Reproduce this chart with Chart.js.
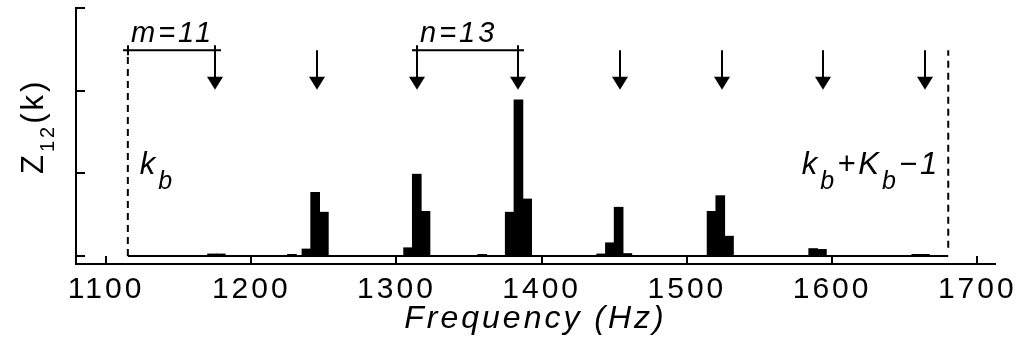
<!DOCTYPE html>
<html>
<head>
<meta charset="utf-8">
<script src="https://cdn.jsdelivr.net/npm/chart.js@4.4.1/dist/chart.umd.min.js"></script>
<style>
  html, body { margin: 0; padding: 0; background: #fff; }
</style>
</head>
<body>
<canvas id="chart-z12" width="1023" height="341"></canvas>
<script>
// Z12(k) per frequency bin
const binFreqs  = [1173, 1179, 1228, 1238, 1244, 1250, 1308, 1314, 1320, 1359, 1378, 1384, 1390, 1441, 1447, 1453, 1459, 1517, 1523, 1529, 1587, 1593, 1658, 1664];
const binValues = [0.025, 0.025, 0.02, 0.085, 0.77, 0.53, 0.10, 0.99, 0.54, 0.02, 0.53, 1.89, 0.69, 0.025, 0.16, 0.59, 0.03, 0.54, 0.73, 0.24, 0.09, 0.08, 0.02, 0.02];
// harmonic positions marked by arrows
const harmonicFreqs = [1175, 1245, 1314, 1384, 1454, 1524, 1594, 1664];
// first and last analysed bin: kb and kb+Kb-1
const bandEdges = [1115, 1680];
// brackets over the arrows
const bracketFrom = [1115, 1314];
const bracketTo = [1175, 1384];
const bracketLabels = ['m=11', 'n=13'];
const bracketLevel = 2.49;
const arrowTip = 2.01;
const xTicks = [1100, 1200, 1300, 1400, 1500, 1600, 1700];
const yTicks = [0, 1, 2, 3];

const FONT = '"Liberation Sans", Arial, Helvetica, sans-serif';
const italic = s => 'italic ' + s + 'px ' + FONT;
const plain = s => s + 'px ' + FONT;

function drawRuns(ctx, runs, x, y) {
    let cx = x;
    runs.forEach(r => {
        ctx.font = r.font;
        ctx.fillText(r.text, cx, y + (r.dy || 0));
        cx += ctx.measureText(r.text).width;
    });
    return cx - x;
}
function runsWidth(ctx, runs) {
    let w = 0;
    runs.forEach(r => { ctx.font = r.font; w += ctx.measureText(r.text).width; });
    return w;
}

const spacing = {
    id: 'spacing',
    beforeDraw(chart) {
        chart.ctx.letterSpacing = '3px';
    }
};

const inwardTicks = {
    id: 'inwardTicks',
    afterDraw(chart) {
        const { ctx, chartArea, scales: { x, y } } = chart;
        ctx.save();
        ctx.strokeStyle = '#000';
        ctx.lineWidth = 2;
        ctx.beginPath();
        xTicks.forEach(v => {
            const px = Math.round(x.getPixelForValue(v));
            ctx.moveTo(px, chartArea.bottom);
            ctx.lineTo(px, chartArea.bottom - 8);
        });
        yTicks.forEach(v => {
            const py = Math.round(y.getPixelForValue(v));
            ctx.moveTo(chartArea.left, py);
            ctx.lineTo(chartArea.left + 9, py);
        });
        ctx.stroke();
        ctx.restore();
    }
};

const annotate = {
    id: 'annotate',
    afterDraw(chart) {
        const { ctx, scales: { x, y } } = chart;
        ctx.save();
        ctx.strokeStyle = '#000';
        ctx.fillStyle = '#000';
        ctx.lineWidth = 2;
        const yTop = y.getPixelForValue(bracketLevel);
        const yTip = y.getPixelForValue(arrowTip);

        // arrows at the harmonics
        harmonicFreqs.forEach(f => {
            const px = Math.round(x.getPixelForValue(f));
            ctx.beginPath();
            ctx.moveTo(px, yTop);
            ctx.lineTo(px, yTip - 10);
            ctx.stroke();
            ctx.beginPath();
            ctx.moveTo(px - 8, yTip - 13);
            ctx.lineTo(px + 8, yTip - 13);
            ctx.lineTo(px, yTip);
            ctx.closePath();
            ctx.fill();
        });

        // brackets + labels
        ctx.textBaseline = 'alphabetic';
        ctx.textAlign = 'left';
        bracketFrom.forEach((f, i) => {
            const x0 = Math.round(x.getPixelForValue(f));
            const x1 = Math.round(x.getPixelForValue(bracketTo[i]));
            ctx.beginPath();
            ctx.moveTo(x0 - 5, yTop);
            ctx.lineTo(x1 + 6, yTop);
            ctx.moveTo(x0, yTop - 5);
            ctx.lineTo(x0, yTop + 5);
            ctx.moveTo(x1, yTop - 5);
            ctx.lineTo(x1, yTop + 5);
            ctx.stroke();
            drawRuns(ctx, [{ text: bracketLabels[i], font: italic(29) }], x0 + 3, yTop - 8);
        });

        // kb and kb+Kb-1
        const left = x.getPixelForValue(bandEdges[0]);
        const right = x.getPixelForValue(bandEdges[1]);
        drawRuns(ctx, [
            { text: 'k', font: italic(31) },
            { text: 'b', font: italic(25), dy: 15 }
        ], left + 12, 174);
        const endRuns = [
            { text: 'k', font: italic(31) },
            { text: 'b', font: italic(25), dy: 15 },
            { text: '+K', font: italic(31) },
            { text: 'b', font: italic(25), dy: 15 },
            { text: '\u22121', font: italic(31) }
        ];
        drawRuns(ctx, endRuns, right - 8 - runsWidth(ctx, endRuns), 174);

        // y-axis title Z12(k)
        ctx.translate(43, 174);
        ctx.rotate(-Math.PI / 2);
        drawRuns(ctx, [
            { text: 'Z', font: plain(31) },
            { text: '12', font: plain(20), dy: 11 },
            { text: '(k)', font: plain(31) }
        ], 0, 0);
        ctx.restore();
    }
};

const ctx = document.getElementById('chart-z12').getContext('2d');
const z12Chart = new Chart(ctx, {
    type: 'bar',
    data: {
        datasets: [
            {
                label: 'Z12(k)',
                data: binFreqs.map((f, i) => ({ x: f, y: binValues[i] })),
                backgroundColor: '#000',
                borderWidth: 0,
                barThickness: 9
            },
            {
                type: 'line',
                data: [{ x: bandEdges[0], y: 0 }, { x: bandEdges[1], y: 0 }],
                borderColor: '#000',
                borderWidth: 2,
                pointRadius: 0
            },
            {
                type: 'line',
                data: [{ x: bandEdges[0], y: 0 }, { x: bandEdges[0], y: bracketLevel }],
                borderColor: '#000',
                borderWidth: 2,
                borderDash: [7, 5],
                pointRadius: 0
            },
            {
                type: 'line',
                data: [{ x: bandEdges[1], y: 0.1 }, { x: bandEdges[1], y: bracketLevel }],
                borderColor: '#000',
                borderWidth: 2,
                borderDash: [7, 5],
                pointRadius: 0
            }
        ]
    },
    options: {
        responsive: false,
        devicePixelRatio: 1,
        animation: false,
        events: [],
        layout: { padding: { top: 8, right: 28, left: 0, bottom: 0 } },
        plugins: {
            legend: { display: false },
            tooltip: { enabled: false }
        },
        scales: {
            x: {
                type: 'linear',
                offset: false,
                min: 1079.3,
                max: 1712.2,
                afterBuildTicks: s => { s.ticks = xTicks.map(v => ({ value: v })); },
                afterFit: s => { s.height = 77; },
                grid: { display: false },
                border: { display: true, color: '#000', width: 2 },
                ticks: {
                    color: '#000',
                    font: { family: FONT, size: 30 },
                    padding: 0,
                    maxRotation: 0,
                    autoSkip: false,
                    callback: v => String(v)
                },
                title: {
                    display: true,
                    text: 'Frequency (Hz)',
                    color: '#000',
                    font: { family: FONT, size: 32, style: 'italic' },
                    padding: { top: 0, bottom: 3 }
                }
            },
            y: {
                min: -0.097,
                max: 3,
                afterFit: s => { s.width = 76; },
                grid: { display: false },
                border: { display: true, color: '#000', width: 2 },
                ticks: { display: false }
            }
        }
    },
    plugins: [spacing, inwardTicks, annotate]
});
</script>
</body>
</html>
